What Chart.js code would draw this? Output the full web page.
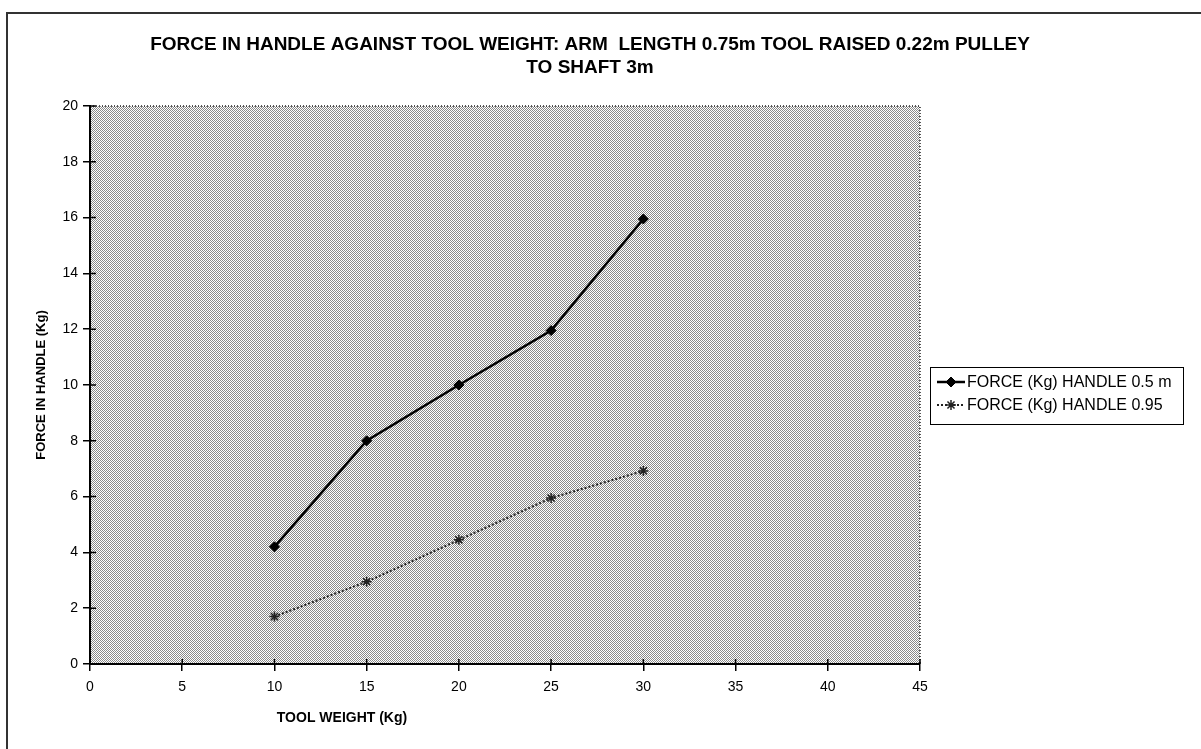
<!DOCTYPE html>
<html>
<head>
<meta charset="utf-8">
<script src="https://cdn.jsdelivr.net/npm/chart.js@4/dist/chart.umd.min.js"></script>
<style>
  body { margin: 0; background: #fff; }
  #wrap { width: 1201px; height: 749px; }
</style>
</head>
<body>
<div id="wrap"><canvas id="chart" width="1201" height="749"></canvas></div>
<script>
const titleLines = ['FORCE IN HANDLE AGAINST TOOL WEIGHT: ARM  LENGTH 0.75m TOOL RAISED 0.22m PULLEY', 'TO SHAFT 3m']
const xTitle = 'TOOL WEIGHT (Kg)'
const yTitle = 'FORCE IN HANDLE (Kg)'
const toolWeight = [10, 15, 20, 25, 30]
const forceHandle05 = [4.2, 8.0, 10.0, 11.95, 15.95]
const forceHandle095 = [1.7, 2.95, 4.45, 5.95, 6.92]
const seriesLabels = ['FORCE (Kg) HANDLE 0.5 m', 'FORCE (Kg) HANDLE 0.95']

const FONT = '"Liberation Sans", Arial, sans-serif'

function pts (ys) {
  return toolWeight.map((x, i) => ({ x, y: ys[i] }))
}

// halftone-ish grey behind the plot area
function makePattern (ctx) {
  const c = document.createElement('canvas')
  c.width = 2
  c.height = 2
  const p = c.getContext('2d')
  p.fillStyle = '#ffffff'
  p.fillRect(0, 0, 2, 2)
  p.fillStyle = '#8a8a8a'
  p.fillRect(0, 0, 1, 1)
  p.fillRect(1, 1, 1, 1)
  return ctx.createPattern(c, 'repeat')
}

const decor = {
  id: 'decor',
  beforeDraw (chart) {
    const { ctx, chartArea: a } = chart
    ctx.save()
    ctx.fillStyle = makePattern(ctx)
    ctx.fillRect(a.left, a.top, a.right - a.left, a.bottom - a.top)
    // outer frame (top + left only, as scanned)
    ctx.strokeStyle = '#333'
    ctx.lineWidth = 2
    ctx.beginPath()
    ctx.moveTo(7, 749)
    ctx.lineTo(7, 13)
    ctx.lineTo(1201, 13)
    ctx.stroke()
    // dotted top / right edge of plot
    ctx.strokeStyle = '#222'
    ctx.lineWidth = 1.5
    ctx.setLineDash([1, 2])
    ctx.beginPath()
    ctx.moveTo(a.left, a.top)
    ctx.lineTo(a.right, a.top)
    ctx.lineTo(a.right, a.bottom)
    ctx.stroke()
    ctx.restore()
  },
  afterDraw (chart) {
    const { ctx, chartArea: a, scales } = chart
    ctx.save()
    // inner half of the crossing tick marks
    ctx.strokeStyle = '#000'
    ctx.lineWidth = 1.5
    ctx.beginPath()
    scales.y.ticks.forEach(t => {
      const y = scales.y.getPixelForValue(t.value)
      ctx.moveTo(a.left, y)
      ctx.lineTo(a.left + 6, y)
    })
    scales.x.ticks.forEach(t => {
      const x = scales.x.getPixelForValue(t.value)
      ctx.moveTo(x, a.bottom)
      ctx.lineTo(x, a.bottom - 5)
    })
    ctx.stroke()

    ctx.fillStyle = '#000'
    ctx.textAlign = 'center'
    ctx.textBaseline = 'middle'
    // chart title, centred on the whole page
    ctx.font = 'bold 19px ' + FONT
    titleLines.forEach((t, i) => ctx.fillText(t, 590, 45 + i * 23))

    // x axis title, placed left of centre like the original
    ctx.font = 'bold 14px ' + FONT
    ctx.fillText(xTitle, 342, 718)

    // legend box
    const lx = 930; const ly = 367; const lw = 253; const lh = 57
    ctx.fillStyle = '#fff'
    ctx.fillRect(lx, ly, lw, lh)
    ctx.strokeStyle = '#000'
    ctx.lineWidth = 1
    ctx.strokeRect(lx + 0.5, ly + 0.5, lw, lh)
    chart.data.datasets.forEach((ds, i) => {
      const y = ly + 15 + i * 23
      ctx.save()
      ctx.strokeStyle = ds.borderColor
      ctx.lineWidth = ds.borderWidth
      ctx.setLineDash(ds.borderDash || [])
      ctx.beginPath()
      ctx.moveTo(lx + 7, y)
      ctx.lineTo(lx + 35, y)
      ctx.stroke()
      ctx.fillStyle = ds.pointBackgroundColor
      ctx.strokeStyle = ds.pointBorderColor
      ctx.lineWidth = ds.pointBorderWidth
      ctx.setLineDash([])
      Chart.helpers.drawPoint(ctx, {
        pointStyle: ds.pointStyle,
        radius: ds.pointRadius,
        borderWidth: ds.pointBorderWidth,
        rotation: 0
      }, lx + 21, y)
      ctx.restore()
      ctx.fillStyle = '#000'
      ctx.font = '16px ' + FONT
      ctx.textAlign = 'left'
      ctx.textBaseline = 'middle'
      ctx.fillText(ds.label, lx + 37, y + 1)
    })
    ctx.restore()
  }
}

new Chart(document.getElementById('chart'), {
  type: 'line',
  data: {
    datasets: [{
      label: seriesLabels[0],
      data: pts(forceHandle05),
      borderColor: '#000',
      backgroundColor: '#000',
      borderWidth: 2.5,
      pointStyle: 'rectRot',
      pointRadius: 5,
      pointBackgroundColor: '#000',
      pointBorderColor: '#000',
      pointBorderWidth: 1
    }, {
      label: seriesLabels[1],
      data: pts(forceHandle095),
      borderColor: '#222',
      backgroundColor: '#222',
      borderWidth: 2,
      borderDash: [2, 2],
      pointStyle: 'star',
      pointRadius: 5,
      pointBackgroundColor: '#222',
      pointBorderColor: '#222',
      pointBorderWidth: 1.5
    }]
  },
  options: {
    responsive: false,
    animation: false,
    layout: { padding: { left: 0, right: 281, top: 106, bottom: 0 } },
    plugins: {
      legend: { display: false },
      tooltip: { enabled: false },
      title: { display: false }
    },
    scales: {
      x: {
        type: 'linear',
        min: 0,
        max: 45,
        afterFit (s) { s.height = 85 },
        ticks: { stepSize: 5, color: '#000', padding: 8, font: { family: FONT, size: 14 } },
        grid: { drawOnChartArea: false, color: '#000', lineWidth: 1.5, tickLength: 7 },
        border: { color: '#000', width: 2 }
      },
      y: {
        min: 0,
        max: 20,
        afterFit (s) { s.width = 90 },
        ticks: { stepSize: 2, color: '#000', padding: 5, font: { family: FONT, size: 14 } },
        grid: { drawOnChartArea: false, color: '#000', lineWidth: 1.5, tickLength: 7 },
        border: { color: '#000', width: 2 },
        title: {
          display: true,
          text: yTitle,
          color: '#000',
          font: { family: FONT, size: 13, weight: 'bold' },
          padding: { top: 34, bottom: 0 }
        }
      }
    }
  },
  plugins: [decor]
})
</script>
</body>
</html>
